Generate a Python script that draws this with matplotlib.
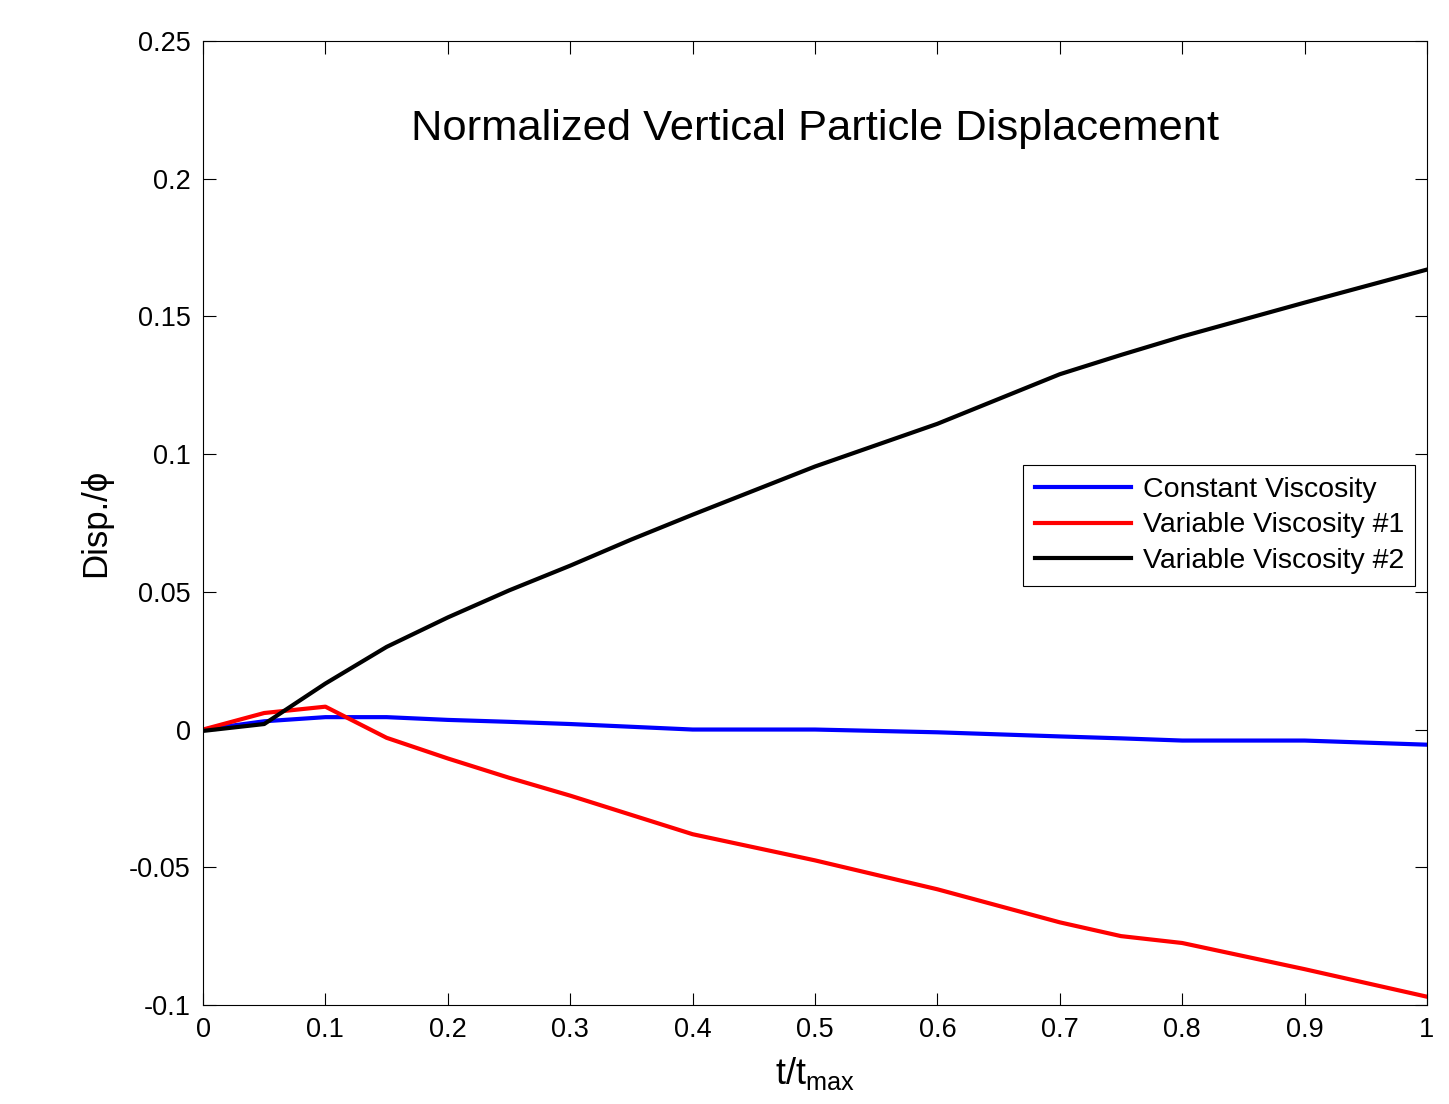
import matplotlib
matplotlib.use('Agg')
import matplotlib.pyplot as plt

plt.rcParams['font.family'] = ['Liberation Sans', 'DejaVu Sans']

# data
t = [0, 0.05, 0.1, 0.15, 0.2, 0.25, 0.3, 0.35, 0.4, 0.5, 0.6, 0.7, 0.75, 0.8, 0.9, 1.0]
const_visc = [0, 0.003, 0.0045, 0.0045, 0.0035, 0.0028, 0.002, 0.001, 0.0, 0.0, -0.001,
              -0.0025, -0.0032, -0.004, -0.004, -0.0055]
var_visc1 = [0, 0.006, 0.0083, -0.003, -0.0105, -0.0175, -0.024, -0.031, -0.038, -0.0475,
             -0.058, -0.070, -0.075, -0.0775, -0.087, -0.097]
var_visc2 = [-0.0005, 0.002, 0.0167, 0.030, 0.0407, 0.0505, 0.0595, 0.069, 0.078, 0.0955,
             0.111, 0.129, 0.136, 0.1427, 0.155, 0.167]

xticks = [0, 0.1, 0.2, 0.3, 0.4, 0.5, 0.6, 0.7, 0.8, 0.9, 1]
xlabels = ['0', '0.1', '0.2', '0.3', '0.4', '0.5', '0.6', '0.7', '0.8', '0.9', '1']
yticks = [-0.1, -0.05, 0, 0.05, 0.1, 0.15, 0.2, 0.25]
ylabels = ['-0.1', '-0.05', '0', '0.05', '0.1', '0.15', '0.2', '0.25']

fig = plt.figure(figsize=(14.49, 11.04), dpi=100)
ax = fig.add_axes([0.1401, 0.0897, 0.8447, 0.8732])

ax.plot(t, const_visc, color='#0000ff', lw=3, label='Constant Viscosity')
ax.plot(t, var_visc1, color='#ff0000', lw=3, label='Variable Viscosity #1')
ax.plot(t, var_visc2, color='black', lw=3, label='Variable Viscosity #2')

ax.set_xlim(0, 1)
ax.set_ylim(-0.1, 0.25)
ax.set_xticks(xticks)
ax.set_xticklabels(xlabels)
ax.set_yticks(yticks)
ax.set_yticklabels(ylabels)
ax.tick_params(direction='in', length=9, width=0.8, labelsize=19.5, top=True, right=True, pad=9)
for s in ax.spines.values():
    s.set_linewidth(0.8)

ax.set_xlabel(r'$\mathregular{t/t_{max}}$', fontsize=26, labelpad=8)
ax.set_ylabel('Disp./\u03d5', fontsize=25, labelpad=12)
ax.text(0.5, 0.909, 'Normalized Vertical Particle Displacement', transform=ax.transAxes,
        ha='center', va='center', fontsize=31.3)

leg = ax.legend(loc='upper right', bbox_to_anchor=(0.9905, 0.56), fontsize=20.5,
                fancybox=False, framealpha=1, edgecolor='black', handlelength=3.4,
                borderpad=0.4, labelspacing=0.35, handletextpad=0.4, borderaxespad=0)
leg.get_frame().set_linewidth(0.8)

fig.savefig('out.png', dpi=100)
